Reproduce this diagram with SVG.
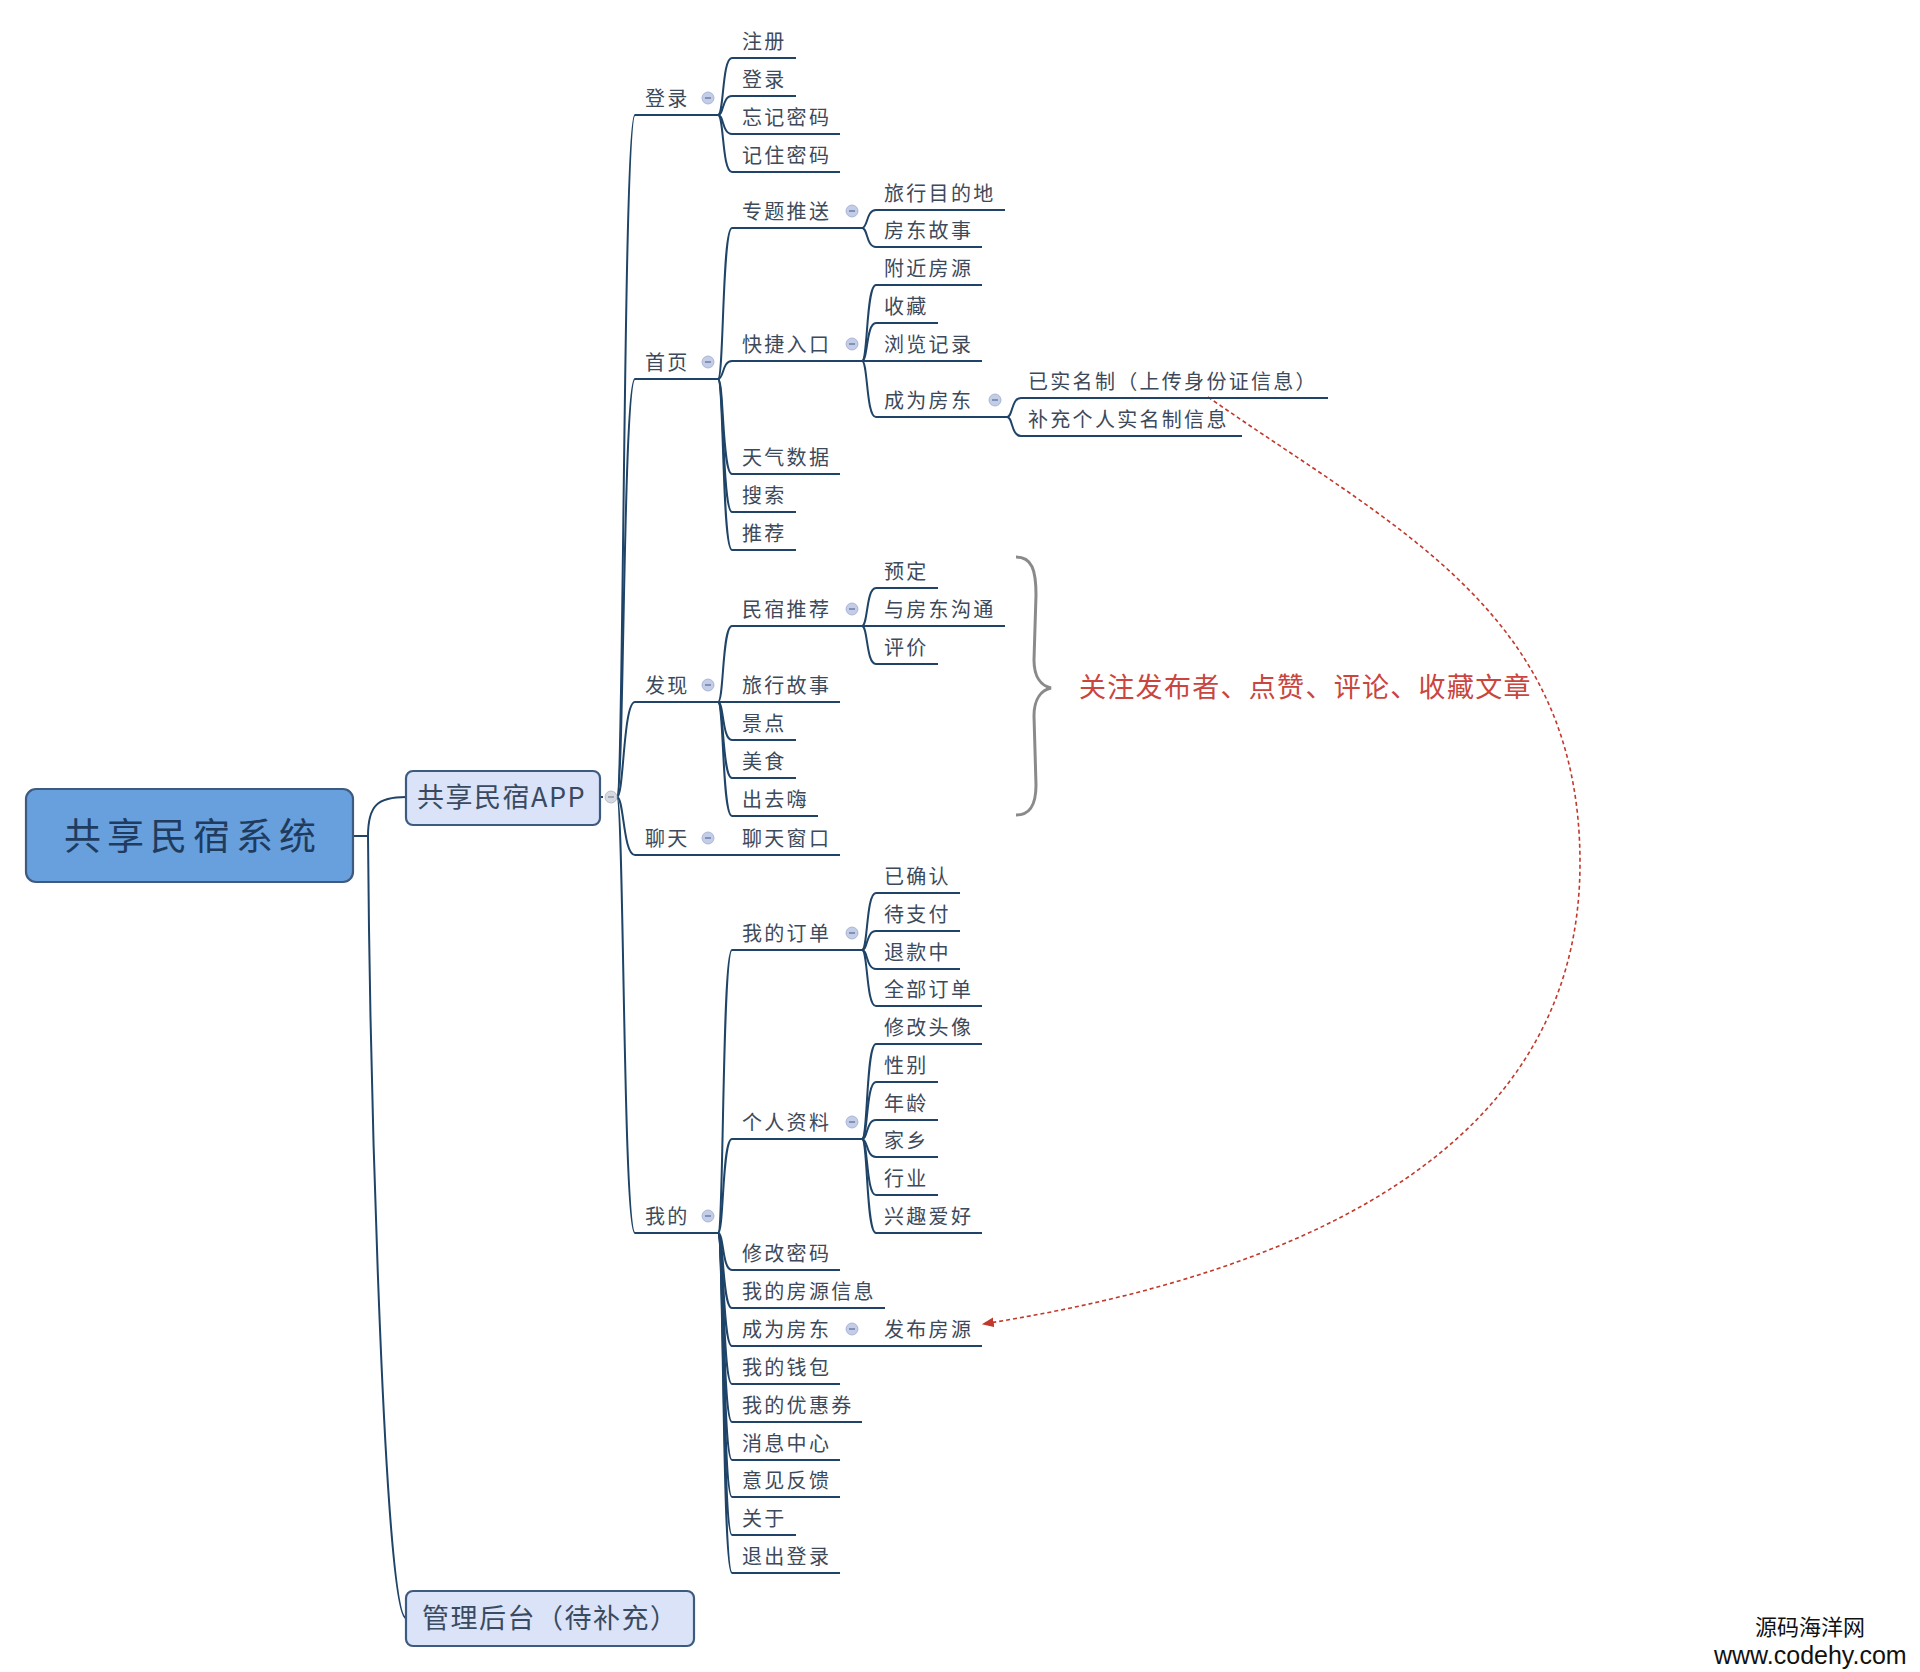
<svg xmlns="http://www.w3.org/2000/svg" xmlns:xlink="http://www.w3.org/1999/xlink" width="1920" height="1672" viewBox="0 0 1920 1672">
<style>
.t{font-family:"Noto Sans CJK SC","Liberation Sans",sans-serif;font-size:20px;fill:#3d4a5b;letter-spacing:2.3px}
.u{stroke:#1f4468;stroke-width:2.2;fill:none}
.k path{stroke:#1f4468;stroke-width:2;fill:none}
.k path.rel{stroke:#c0392b;stroke-width:1.6;stroke-dasharray:4 3}
.box{stroke:#3d5a80;stroke-width:2.2}
</style>
<defs>
<g id="col"><circle r="6" fill="#c3cde6" stroke="#9eacd0" stroke-width="0.8"/><path d="M-3,0H3" stroke="#6678a6" stroke-width="1.4"/></g>
<marker id="ah" viewBox="0 0 10 10" refX="9" refY="5" markerWidth="12" markerHeight="12" markerUnits="userSpaceOnUse" orient="auto"><path d="M0,1 L10,5 L0,9 z" fill="#c0392b"/></marker>
</defs>
<rect width="1920" height="1672" fill="#ffffff"/>

<g id="connectors" class="k">
<path d="M353,836 H368"/>
<path d="M368,836 C368,805 378,797 406,797"/>
<path d="M368,836 C370,1100 385,1618 406,1618"/>
<path d="M600,797 H605" stroke-dasharray="3 2"/>
<path d="M617,797 C624,797 623,115 635,115"/>
<path d="M617,797 C624,797 623,379 635,379"/>
<path d="M617,797 C624,797 623,702 635,702"/>
<path d="M617,797 C624,797 623,855 635,855"/>
<path d="M617,797 C624,797 623,1233 635,1233"/>
<path d="M718,115 C724,115 722,58 732,58"/>
<path d="M718,115 C724,115 722,96 732,96"/>
<path d="M718,115 C724,115 722,134 732,134"/>
<path d="M718,115 C724,115 722,172 732,172"/>
<path d="M718,379 C724,379 722,228 732,228"/>
<path d="M718,379 C724,379 722,361 732,361"/>
<path d="M718,379 C724,379 722,474 732,474"/>
<path d="M718,379 C724,379 722,512 732,512"/>
<path d="M718,379 C724,379 722,550 732,550"/>
<path d="M718,702 C724,702 722,626 732,626"/>
<path d="M718,702 H732"/>
<path d="M718,702 C724,702 722,740 732,740"/>
<path d="M718,702 C724,702 722,778 732,778"/>
<path d="M718,702 C724,702 722,816 732,816"/>
<path d="M718,855 H732"/>
<path d="M718,1233 C724,1233 722,950 732,950"/>
<path d="M718,1233 C724,1233 722,1139 732,1139"/>
<path d="M718,1233 C724,1233 722,1270 732,1270"/>
<path d="M718,1233 C724,1233 722,1308 732,1308"/>
<path d="M718,1233 C724,1233 722,1346 732,1346"/>
<path d="M718,1233 C724,1233 722,1384 732,1384"/>
<path d="M718,1233 C724,1233 722,1422 732,1422"/>
<path d="M718,1233 C724,1233 722,1460 732,1460"/>
<path d="M718,1233 C724,1233 722,1497 732,1497"/>
<path d="M718,1233 C724,1233 722,1535 732,1535"/>
<path d="M718,1233 C724,1233 722,1573 732,1573"/>
<path d="M862,228 C868,228 866,210 876,210"/>
<path d="M862,228 C868,228 866,247 876,247"/>
<path d="M862,361 C868,361 866,285 876,285"/>
<path d="M862,361 C868,361 866,323 876,323"/>
<path d="M862,361 H876"/>
<path d="M862,361 C868,361 866,417 876,417"/>
<path d="M862,626 C868,626 866,588 876,588"/>
<path d="M862,626 H876"/>
<path d="M862,626 C868,626 866,664 876,664"/>
<path d="M862,950 C868,950 866,893 876,893"/>
<path d="M862,950 C868,950 866,931 876,931"/>
<path d="M862,950 C868,950 866,969 876,969"/>
<path d="M862,950 C868,950 866,1006 876,1006"/>
<path d="M862,1139 C868,1139 866,1044 876,1044"/>
<path d="M862,1139 C868,1139 866,1082 876,1082"/>
<path d="M862,1139 C868,1139 866,1120 876,1120"/>
<path d="M862,1139 C868,1139 866,1157 876,1157"/>
<path d="M862,1139 C868,1139 866,1195 876,1195"/>
<path d="M862,1139 C868,1139 866,1233 876,1233"/>
<path d="M862,1346 H876"/>
<path d="M1007,417 C1013,417 1011,398 1021,398"/>
<path d="M1007,417 C1013,417 1011,436 1021,436"/>
<path class="rel" d="M1208,397 C1397,529 1580,613 1580,863 C1580,1143 1313,1272 983,1324" marker-end="url(#ah)"/>
</g>

<g id="root"><rect class="box" x="26" y="789" width="327" height="93" rx="10" fill="#67a0dc" stroke="#4677b0"/><text x="64" y="850" style="font-family:'Noto Sans CJK SC','Liberation Sans',sans-serif;font-size:37px;letter-spacing:6px;fill:#1f3b5e">共享民宿系统</text></g>
<g id="app"><rect class="box" x="406" y="771" width="194" height="54" rx="7" fill="#dbe3f8"/><text x="417" y="807" style="font-family:'Noto Sans CJK SC','Liberation Sans',sans-serif;font-size:27px;letter-spacing:1.5px;fill:#3a4a60">共享民宿APP</text><circle cx="611" cy="797" r="6" fill="#d5d9e1" stroke="#aab2c2" stroke-width="0.8"/><path d="M608,797H614" stroke="#8890a0" stroke-width="1.4"/></g>
<g id="admin"><rect class="box" x="406" y="1591" width="288" height="55" rx="7" fill="#dbe3f8"/><text x="422" y="1628" style="font-family:'Noto Sans CJK SC','Liberation Sans',sans-serif;font-size:27px;letter-spacing:1.5px;fill:#3a4a60">管理后台（待补充）</text></g>

<g id="l2-denglu"><line class="u" x1="635" y1="115" x2="718" y2="115"/><text class="t" x="645" y="106">登录</text><use href="#col" x="708" y="98"/></g>
<g id="l2-shouye"><line class="u" x1="635" y1="379" x2="718" y2="379"/><text class="t" x="645" y="370">首页</text><use href="#col" x="708" y="362"/></g>
<g id="l2-faxian"><line class="u" x1="635" y1="702" x2="718" y2="702"/><text class="t" x="645" y="693">发现</text><use href="#col" x="708" y="685"/></g>
<g id="l2-liaotian"><line class="u" x1="635" y1="855" x2="718" y2="855"/><text class="t" x="645" y="846">聊天</text><use href="#col" x="708" y="838"/></g>
<g id="l2-wode"><line class="u" x1="635" y1="1233" x2="718" y2="1233"/><text class="t" x="645" y="1224">我的</text><use href="#col" x="708" y="1216"/></g>

<g id="n-zhuce"><line class="u" x1="732" y1="58" x2="796" y2="58"/><text class="t" x="742" y="49">注册</text></g>
<g id="n-denglu2"><line class="u" x1="732" y1="96" x2="796" y2="96"/><text class="t" x="742" y="87">登录</text></g>
<g id="n-wangji"><line class="u" x1="732" y1="134" x2="840" y2="134"/><text class="t" x="742" y="125">忘记密码</text></g>
<g id="n-jizhu"><line class="u" x1="732" y1="172" x2="840" y2="172"/><text class="t" x="742" y="163">记住密码</text></g>
<g id="n-zhuanti"><line class="u" x1="732" y1="228" x2="862" y2="228"/><text class="t" x="742" y="219">专题推送</text><use href="#col" x="852" y="211"/></g>
<g id="n-kuaijie"><line class="u" x1="732" y1="361" x2="862" y2="361"/><text class="t" x="742" y="352">快捷入口</text><use href="#col" x="852" y="344"/></g>
<g id="n-tianqi"><line class="u" x1="732" y1="474" x2="840" y2="474"/><text class="t" x="742" y="465">天气数据</text></g>
<g id="n-sousuo"><line class="u" x1="732" y1="512" x2="796" y2="512"/><text class="t" x="742" y="503">搜索</text></g>
<g id="n-tuijian"><line class="u" x1="732" y1="550" x2="796" y2="550"/><text class="t" x="742" y="541">推荐</text></g>
<g id="n-minsu"><line class="u" x1="732" y1="626" x2="862" y2="626"/><text class="t" x="742" y="617">民宿推荐</text><use href="#col" x="852" y="609"/></g>
<g id="n-lvxing"><line class="u" x1="732" y1="702" x2="840" y2="702"/><text class="t" x="742" y="693">旅行故事</text></g>
<g id="n-jingdian"><line class="u" x1="732" y1="740" x2="796" y2="740"/><text class="t" x="742" y="731">景点</text></g>
<g id="n-meishi"><line class="u" x1="732" y1="778" x2="796" y2="778"/><text class="t" x="742" y="769">美食</text></g>
<g id="n-chuqu"><line class="u" x1="732" y1="816" x2="818" y2="816"/><text class="t" x="742" y="807">出去嗨</text></g>
<g id="n-chuangkou"><line class="u" x1="732" y1="855" x2="840" y2="855"/><text class="t" x="742" y="846">聊天窗口</text></g>
<g id="n-dingdan"><line class="u" x1="732" y1="950" x2="862" y2="950"/><text class="t" x="742" y="941">我的订单</text><use href="#col" x="852" y="933"/></g>
<g id="n-ziliao"><line class="u" x1="732" y1="1139" x2="862" y2="1139"/><text class="t" x="742" y="1130">个人资料</text><use href="#col" x="852" y="1122"/></g>
<g id="n-xiugaimima"><line class="u" x1="732" y1="1270" x2="840" y2="1270"/><text class="t" x="742" y="1261">修改密码</text></g>
<g id="n-fangyuan"><line class="u" x1="732" y1="1308" x2="885" y2="1308"/><text class="t" x="742" y="1299">我的房源信息</text></g>
<g id="n-chengwei2"><line class="u" x1="732" y1="1346" x2="862" y2="1346"/><text class="t" x="742" y="1337">成为房东</text><use href="#col" x="852" y="1329"/></g>
<g id="n-qianbao"><line class="u" x1="732" y1="1384" x2="840" y2="1384"/><text class="t" x="742" y="1375">我的钱包</text></g>
<g id="n-youhui"><line class="u" x1="732" y1="1422" x2="862" y2="1422"/><text class="t" x="742" y="1413">我的优惠券</text></g>
<g id="n-xiaoxi"><line class="u" x1="732" y1="1460" x2="840" y2="1460"/><text class="t" x="742" y="1451">消息中心</text></g>
<g id="n-yijian"><line class="u" x1="732" y1="1497" x2="840" y2="1497"/><text class="t" x="742" y="1488">意见反馈</text></g>
<g id="n-guanyu"><line class="u" x1="732" y1="1535" x2="796" y2="1535"/><text class="t" x="742" y="1526">关于</text></g>
<g id="n-tuichu"><line class="u" x1="732" y1="1573" x2="840" y2="1573"/><text class="t" x="742" y="1564">退出登录</text></g>

<g id="n-mudidi"><line class="u" x1="876" y1="210" x2="1005" y2="210"/><text class="t" x="884" y="201">旅行目的地</text></g>
<g id="n-gushi"><line class="u" x1="876" y1="247" x2="982" y2="247"/><text class="t" x="884" y="238">房东故事</text></g>
<g id="n-fujin"><line class="u" x1="876" y1="285" x2="982" y2="285"/><text class="t" x="884" y="276">附近房源</text></g>
<g id="n-shoucang"><line class="u" x1="876" y1="323" x2="938" y2="323"/><text class="t" x="884" y="314">收藏</text></g>
<g id="n-liulan"><line class="u" x1="876" y1="361" x2="982" y2="361"/><text class="t" x="884" y="352">浏览记录</text></g>
<g id="n-chengwei1"><line class="u" x1="876" y1="417" x2="1007" y2="417"/><text class="t" x="884" y="408">成为房东</text><use href="#col" x="995" y="400"/></g>
<g id="n-yuding"><line class="u" x1="876" y1="588" x2="938" y2="588"/><text class="t" x="884" y="579">预定</text></g>
<g id="n-goutong"><line class="u" x1="876" y1="626" x2="1005" y2="626"/><text class="t" x="884" y="617">与房东沟通</text></g>
<g id="n-pingjia"><line class="u" x1="876" y1="664" x2="938" y2="664"/><text class="t" x="884" y="655">评价</text></g>
<g id="n-queren"><line class="u" x1="876" y1="893" x2="960" y2="893"/><text class="t" x="884" y="884">已确认</text></g>
<g id="n-zhifu"><line class="u" x1="876" y1="931" x2="960" y2="931"/><text class="t" x="884" y="922">待支付</text></g>
<g id="n-tuikuan"><line class="u" x1="876" y1="969" x2="960" y2="969"/><text class="t" x="884" y="960">退款中</text></g>
<g id="n-quanbu"><line class="u" x1="876" y1="1006" x2="982" y2="1006"/><text class="t" x="884" y="997">全部订单</text></g>
<g id="n-touxiang"><line class="u" x1="876" y1="1044" x2="982" y2="1044"/><text class="t" x="884" y="1035">修改头像</text></g>
<g id="n-xingbie"><line class="u" x1="876" y1="1082" x2="938" y2="1082"/><text class="t" x="884" y="1073">性别</text></g>
<g id="n-nianling"><line class="u" x1="876" y1="1120" x2="938" y2="1120"/><text class="t" x="884" y="1111">年龄</text></g>
<g id="n-jiaxiang"><line class="u" x1="876" y1="1157" x2="938" y2="1157"/><text class="t" x="884" y="1148">家乡</text></g>
<g id="n-hangye"><line class="u" x1="876" y1="1195" x2="938" y2="1195"/><text class="t" x="884" y="1186">行业</text></g>
<g id="n-xingqu"><line class="u" x1="876" y1="1233" x2="982" y2="1233"/><text class="t" x="884" y="1224">兴趣爱好</text></g>
<g id="n-fabu"><line class="u" x1="876" y1="1346" x2="982" y2="1346"/><text class="t" x="884" y="1337">发布房源</text></g>

<g id="n-shiming"><line class="u" x1="1021" y1="398" x2="1328" y2="398"/><text class="t" x="1028" y="389">已实名制（上传身份证信息）</text></g>
<g id="n-buchong"><line class="u" x1="1021" y1="436" x2="1242" y2="436"/><text class="t" x="1028" y="427">补充个人实名制信息</text></g>

<g id="note">
<path d="M1016,557 C1032,557 1036,570 1036,595 L1034,660 C1034,678 1042,686 1051,688 C1042,690 1034,698 1034,716 L1036,785 C1036,805 1030,815 1016,815" fill="none" stroke="#8a8a8a" stroke-width="3"/>
<text x="1079" y="697" style="font-family:'Noto Sans CJK SC','Liberation Sans',sans-serif;font-size:27px;letter-spacing:1.3px;fill:#c9453e">关注发布者、点赞、评论、收藏文章</text>
</g>

<g id="watermark">
<text x="1755" y="1635" style="font-family:'Noto Sans CJK SC','Liberation Sans',sans-serif;font-size:22px;fill:#111">源码海洋网</text>
<text x="1714" y="1664" style="font-family:'Liberation Sans','Noto Sans CJK SC',sans-serif;font-size:25px;fill:#111">www.codehy.com</text>
</g>
</svg>
